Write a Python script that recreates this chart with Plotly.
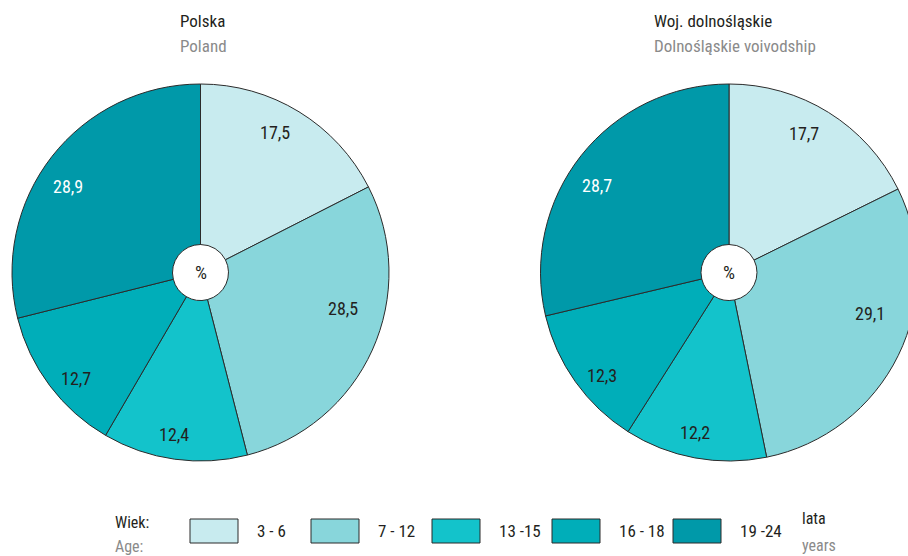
import math
import plotly.graph_objects as go

# ---- data ----
age_groups = ["3 - 6", "7 - 12", "13 -15", "16 - 18", "19 -24"]
poland_values = [17.5, 28.5, 12.4, 12.7, 28.9]
dolnoslaskie_values = [17.7, 29.1, 12.2, 12.3, 28.7]
colors = ["#c8ebef", "#88d6db", "#13c3cb", "#00aeb9", "#0099a9"]
label_colors = ["#231f20", "#231f20", "#231f20", "#231f20", "#ffffff"]

titles_pl = ["Polska", "Woj. dolnośląskie"]
titles_en = ["Poland", "Dolnośląskie voivodship"]

FONT = "Liberation Sans Narrow, Roboto Condensed, DejaVu Sans Condensed, sans-serif"
W, H = 930, 556
DARK = "#231f20"
GREY = "#8a8a8a"

# label placement tweaks per slice (angle shift in degrees, radius as fraction of R)
LABEL_ANGLE_SHIFT = [-3.5, -10, 1.5, -3.5, -5]
LABEL_RADIUS = [0.84, 0.78, 0.87, 0.865, 0.84]


def px(x):
    return x / W


def py(y):
    return 1 - y / H


def fmt(v):
    return f"{v:.1f}".replace(".", ",")


fig = go.Figure()

centers = [(200.5, 272.5), (729.0, 272.5)]
R = 188.5
for (cx, cy), vals in zip(centers, [poland_values, dolnoslaskie_values]):
    fig.add_trace(go.Pie(
        labels=age_groups,
        values=vals,
        textinfo="none",
        sort=False,
        direction="clockwise",
        rotation=0,
        hole=28 / R,
        marker=dict(colors=colors, line=dict(color="#2b2b2b", width=1)),
        domain=dict(x=[px(cx - R), px(cx + R)], y=[py(cy + R), py(cy - R)]),
        showlegend=False,
        hoverinfo="label+value",
    ))
    # value labels placed near the middle angle of each slice
    total = sum(vals)
    cum = 0.0
    for v, lc, da, rf in zip(vals, label_colors, LABEL_ANGLE_SHIFT, LABEL_RADIUS):
        theta = math.radians((cum + v / 2) / total * 360 + da)
        cum += v
        lx = cx + rf * R * math.sin(theta)
        ly = cy - rf * R * math.cos(theta)
        fig.add_annotation(x=px(lx), y=py(ly), xref="paper", yref="paper",
                           text=fmt(v), showarrow=False,
                           xanchor="center", yanchor="middle",
                           font=dict(family=FONT, size=18, color=lc))
    fig.add_annotation(x=px(cx), y=py(cy), xref="paper", yref="paper",
                       text="%", showarrow=False, xanchor="center", yanchor="middle",
                       font=dict(family=FONT, size=19, color=DARK))

# titles
for (tx, t1, t2) in zip([178, 652], titles_pl, titles_en):
    fig.add_annotation(x=px(tx), y=py(21), xref="paper", yref="paper",
                       xanchor="left", yanchor="middle", text=t1, showarrow=False,
                       font=dict(family=FONT, size=17, color=DARK))
    fig.add_annotation(x=px(tx), y=py(46), xref="paper", yref="paper",
                       xanchor="left", yanchor="middle", text=t2, showarrow=False,
                       font=dict(family=FONT, size=17, color=GREY))

# legend (custom boxes)
box_x = [190, 311, 432, 552, 673]
for bx, col, lab in zip(box_x, colors, age_groups):
    fig.add_shape(type="rect", xref="paper", yref="paper",
                  x0=px(bx), x1=px(bx + 48), y0=py(543), y1=py(519),
                  fillcolor=col, line=dict(color="#2b2b2b", width=1))
    fig.add_annotation(x=px(bx + 65), y=py(531), xref="paper", yref="paper",
                       xanchor="left", yanchor="middle", text=lab, showarrow=False,
                       font=dict(family=FONT, size=17, color=DARK))

fig.add_annotation(x=px(113), y=py(522), xref="paper", yref="paper",
                   xanchor="left", yanchor="middle", text="Wiek:", showarrow=False,
                   font=dict(family=FONT, size=16, color=DARK))
fig.add_annotation(x=px(113), y=py(546), xref="paper", yref="paper",
                   xanchor="left", yanchor="middle", text="Age:", showarrow=False,
                   font=dict(family=FONT, size=16, color=GREY))
fig.add_annotation(x=px(800), y=py(518), xref="paper", yref="paper",
                   xanchor="left", yanchor="middle", text="lata", showarrow=False,
                   font=dict(family=FONT, size=16, color=DARK))
fig.add_annotation(x=px(800), y=py(545), xref="paper", yref="paper",
                   xanchor="left", yanchor="middle", text="years", showarrow=False,
                   font=dict(family=FONT, size=16, color=GREY))

fig.update_layout(
    width=W, height=H,
    margin=dict(l=0, r=0, t=0, b=0),
    paper_bgcolor="white", plot_bgcolor="white",
    font=dict(family=FONT, color=DARK),
)

fig.write_html("out.html",
               config={"displayModeBar": False},
               post_script="document.body.style.margin='0';document.body.style.overflow='hidden';")
